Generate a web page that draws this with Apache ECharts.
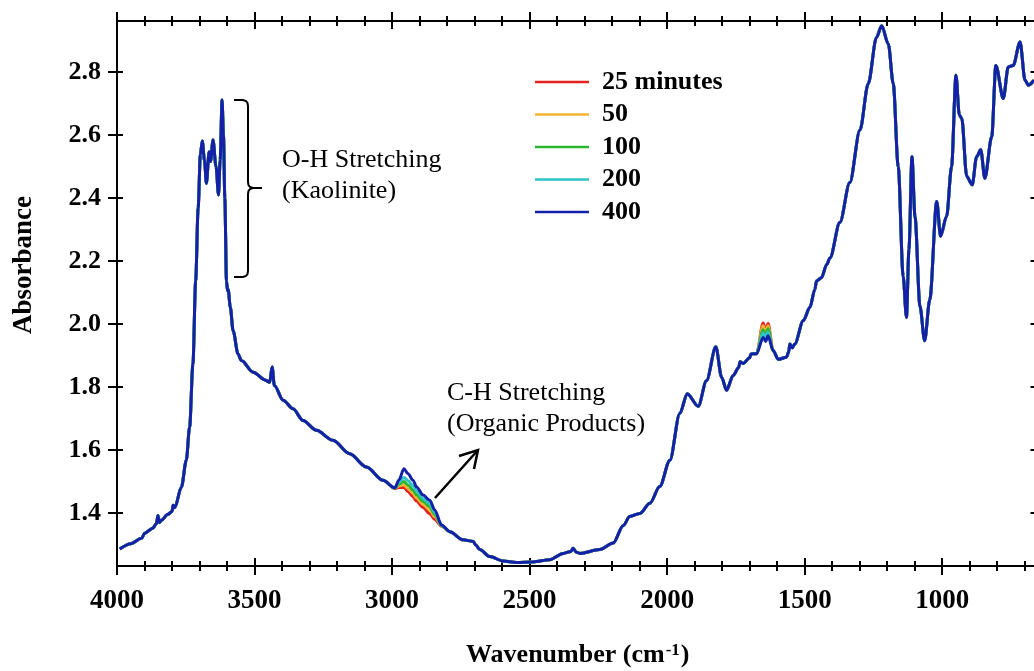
<!DOCTYPE html>
<html>
<head>
<meta charset="utf-8">
<script src="https://cdn.jsdelivr.net/npm/echarts@6/dist/echarts.min.js"></script>
<style>
  html, body { margin: 0; padding: 0; background: #fff; }
  #main { width: 1034px; height: 671px; }
</style>
</head>
<body>
<div id="main"></div>
<script>
// 波数 (cm-1) 与 400 分钟吸光度
var wavenumber = [3990, 3950, 3911, 3899, 3870, 3857, 3851, 3846, 3839, 3815, 3800, 3796, 3790, 3766, 3748, 3736, 3724, 3714, 3705, 3697,
    3690, 3682, 3675, 3665, 3660, 3651, 3640, 3631, 3625, 3618, 3613, 3608, 3602, 3598, 3596, 3588, 3578, 3560, 3548, 3505,
    3460, 3445, 3436, 3428, 3396, 3360, 3324, 3275, 3215, 3154, 3093, 3033, 2990, 2975, 2957, 2942, 2924, 2911, 2887, 2863,
    2845, 2820, 2790, 2742, 2705, 2695, 2681, 2645, 2596, 2548, 2487, 2427, 2378, 2350, 2342, 2330, 2317, 2245, 2196, 2160,
    2136, 2099, 2063, 2027, 1990, 1954, 1927, 1887, 1857, 1823, 1802, 1784, 1760, 1740, 1735, 1724, 1700, 1695, 1675, 1651,
    1642, 1633, 1615, 1596, 1566, 1558, 1554, 1545, 1536, 1505, 1481, 1463, 1457, 1439, 1420, 1408, 1372, 1336, 1299, 1269,
    1239, 1220, 1196, 1178, 1160, 1142, 1130, 1121, 1110, 1099, 1081, 1064, 1045, 1020, 1006, 984, 966, 950, 938, 929,
    911, 891, 875, 860, 845, 820, 805, 778, 760, 742, 717, 699, 687, 667];
var abs400 = [1.286, 1.303, 1.320, 1.336, 1.352, 1.366, 1.392, 1.370, 1.377, 1.396, 1.405, 1.425, 1.417, 1.482, 1.568, 1.673, 1.873, 2.137, 2.368, 2.537,
    2.581, 2.520, 2.447, 2.547, 2.516, 2.584, 2.500, 2.410, 2.520, 2.711, 2.600, 2.400, 2.137, 2.105, 2.110, 2.053, 1.979, 1.905, 1.884, 1.847,
    1.822, 1.815, 1.864, 1.805, 1.758, 1.731, 1.694, 1.663, 1.631, 1.588, 1.546, 1.504, 1.480, 1.505, 1.541, 1.525, 1.504, 1.483, 1.457, 1.441,
    1.410, 1.362, 1.341, 1.315, 1.310, 1.298, 1.284, 1.262, 1.248, 1.243, 1.245, 1.252, 1.272, 1.278, 1.288, 1.276, 1.272, 1.284, 1.305, 1.360,
    1.389, 1.399, 1.431, 1.484, 1.568, 1.716, 1.779, 1.739, 1.820, 1.928, 1.831, 1.790, 1.837, 1.862, 1.880, 1.875, 1.893, 1.905, 1.906, 1.957,
    1.945, 1.963, 1.916, 1.888, 1.895, 1.912, 1.937, 1.925, 1.937, 2.011, 2.053, 2.110, 2.137, 2.147, 2.189, 2.210, 2.323, 2.449, 2.616, 2.763,
    2.910, 2.947, 2.889, 2.763, 2.500, 2.152, 2.021, 2.237, 2.531, 2.341, 2.057, 1.947, 2.079, 2.389, 2.279, 2.342, 2.500, 2.790, 2.664, 2.653,
    2.469, 2.442, 2.531, 2.553, 2.463, 2.595, 2.821, 2.716, 2.816, 2.821, 2.895, 2.774, 2.758, 2.774];

// C-H 区域 (其余时间的曲线不同)
var chWave = [2990, 2975, 2957, 2942, 2924, 2911, 2887, 2863, 2845, 2820];
var ch25  = [1.478, 1.481, 1.482, 1.468, 1.452, 1.438, 1.418, 1.398, 1.380, 1.358];
var ch50  = [1.479, 1.486, 1.490, 1.478, 1.462, 1.448, 1.427, 1.410, 1.388, 1.359];
var ch100 = [1.479, 1.492, 1.500, 1.489, 1.473, 1.458, 1.437, 1.420, 1.395, 1.360];
var ch200 = [1.480, 1.498, 1.513, 1.503, 1.486, 1.470, 1.446, 1.430, 1.402, 1.361];
// 1650 附近
var amWave = [1651, 1642, 1633];
var am25  = [2.003, 1.982, 2.002];
var am50  = [1.995, 1.975, 1.995];
var am100 = [1.982, 1.966, 1.985];
var am200 = [1.972, 1.958, 1.975];

var seriesNames = ['25 minutes', '50', '100', '200', '400'];
var seriesColors = ['#e3221e', '#f2b233', '#2fb52f', '#2fc4c4', '#1420a8'];

var xMajorTicks = [4000, 3500, 3000, 2500, 2000, 1500, 1000];
var xMinorTicks = [3900, 3800, 3700, 3600, 3400, 3300, 3200, 3100, 2900, 2800, 2700, 2600, 2400, 2300, 2200, 2100,
    1900, 1800, 1700, 1600, 1400, 1300, 1200, 1100, 900, 800, 700];
var yTicks = [1.4, 1.6, 1.8, 2.0, 2.2, 2.4, 2.6, 2.8];

function buildData(chVals, amVals) {
    return wavenumber.map(function (w, i) {
        var v = abs400[i];
        var j = chWave.indexOf(w);
        if (chVals && j >= 0) v = chVals[j];
        j = amWave.indexOf(w);
        if (amVals && j >= 0) v = amVals[j];
        return [w, v];
    });
}
var seriesData = [
    buildData(ch25, am25),
    buildData(ch50, am50),
    buildData(ch100, am100),
    buildData(ch200, am200),
    buildData(null, null)
];

var FONT = '"Liberation Serif", "Times New Roman", serif';
var X_MIN = 650, X_MAX = 4000, Y_MIN = 1.232, Y_MAX = 2.962;

function xAx(pos, opts) {
    var base = {
        type: 'value', gridIndex: 0, position: pos, inverse: true, min: X_MIN, max: X_MAX,
        splitLine: { show: false },
        axisLine: { show: false },
        axisTick: { show: false },
        axisLabel: { show: false }
    };
    for (var k in opts) base[k] = opts[k];
    return base;
}
function yAx(pos, opts) {
    var base = {
        type: 'value', gridIndex: 0, position: pos, min: Y_MIN, max: Y_MAX,
        splitLine: { show: false },
        axisLine: { show: false },
        axisTick: { show: false },
        axisLabel: { show: false }
    };
    for (var k in opts) base[k] = opts[k];
    return base;
}
var blackLine = { show: true, onZero: false, lineStyle: { color: '#000', width: 2 } };

var myChart = echarts.init(document.getElementById('main'));
var option = {
    animation: false,
    backgroundColor: '#fff',
    grid: { left: 117, top: 21, width: 921.5, height: 545, outerBoundsMode: 'none', containLabel: false },
    legend: {
        orient: 'vertical',
        left: 535,
        top: 69,
        padding: 0,
        itemWidth: 54,
        itemHeight: 2.5,
        itemGap: 6.5,
        icon: 'rect',
        data: seriesNames,
        textStyle: { fontFamily: FONT, fontWeight: 'bold', fontSize: 26, color: '#000', lineHeight: 26, padding: [0, 0, 0, 8] }
    },
    xAxis: [
        xAx('bottom', {
            axisLine: blackLine,
            axisLabel: {
                show: true, customValues: xMajorTicks, margin: 22, color: '#000', fontFamily: FONT, fontWeight: 'bold', fontSize: 27,
                formatter: function (v) { return String(v); }
            },
            name: '{a|Wavenumber (cm}{s|-1}{a|)}',
            nameLocation: 'middle',
            nameGap: 76,
            nameTextStyle: {
                rich: {
                    a: { fontFamily: FONT, fontWeight: 'bold', fontSize: 26, color: '#000' },
                    s: { fontFamily: FONT, fontWeight: 'bold', fontSize: 17, color: '#000', verticalAlign: 'top', padding: [0, 1, 10, 1] }
                }
            }
        }),
        xAx('bottom', { offset: -8, axisTick: { show: true, customValues: xMajorTicks, length: 17, lineStyle: { color: '#000', width: 2 } } }),
        xAx('bottom', { offset: -5, axisTick: { show: true, customValues: xMinorTicks, length: 10, lineStyle: { color: '#000', width: 2 } } }),
        xAx('top', { axisLine: blackLine }),
        xAx('top', { offset: -8, axisTick: { show: true, customValues: xMajorTicks, length: 17, lineStyle: { color: '#000', width: 2 } } }),
        xAx('top', { offset: -5, axisTick: { show: true, customValues: xMinorTicks, length: 10, lineStyle: { color: '#000', width: 2 } } })
    ],
    yAxis: [
        yAx('left', {
            axisLine: blackLine,
            axisLabel: {
                show: true, customValues: yTicks, margin: 16, color: '#000', fontFamily: FONT, fontWeight: 'bold', fontSize: 26,
                formatter: function (v) { return v.toFixed(1); }
            }
        }),
        yAx('left', { offset: -6, axisTick: { show: true, customValues: yTicks, length: 15, lineStyle: { color: '#000', width: 2 } } }),
        yAx('right', { axisLine: blackLine, axisTick: { show: true, inside: true, customValues: yTicks, length: 8, lineStyle: { color: '#000', width: 2 } } })
    ],
    series: seriesNames.map(function (name, i) {
        return {
            name: name,
            type: 'line',
            xAxisIndex: 0,
            yAxisIndex: 0,
            data: seriesData[i],
            showSymbol: false,
            smooth: 0.3,
            smoothMonotone: 'x',
            color: seriesColors[i],
            lineStyle: { width: 3, color: seriesColors[i] },
            z: 2 + i
        };
    }),
    graphic: [
        {
            type: 'text', x: 24, y: 265, rotation: Math.PI / 2,
            style: { text: 'Absorbance', font: 'bold 27px ' + FONT, fill: '#000', align: 'center', verticalAlign: 'middle' }
        },
        // 括号
        {
            type: 'polyline',
            shape: { points: [[234, 100], [243, 100], [246, 101], [247.5, 103], [248, 106], [248, 182], [248.5, 185], [250, 187], [253, 188], [262, 188]] },
            style: { stroke: '#000', lineWidth: 2, fill: null }
        },
        {
            type: 'polyline',
            shape: { points: [[253, 188], [250, 189], [248.5, 191], [248, 194], [248, 271], [247.5, 274], [246, 276], [243, 277], [234, 277]] },
            style: { stroke: '#000', lineWidth: 2, fill: null }
        },
        { type: 'text', x: 282, y: 160, style: { text: 'O-H Stretching', font: '26px ' + FONT, fill: '#000', verticalAlign: 'middle' } },
        { type: 'text', x: 282, y: 191, style: { text: '(Kaolinite)', font: '26px ' + FONT, fill: '#000', verticalAlign: 'middle' } },
        { type: 'text', x: 447, y: 393, style: { text: 'C-H Stretching', font: '26px ' + FONT, fill: '#000', verticalAlign: 'middle' } },
        { type: 'text', x: 447, y: 424, style: { text: '(Organic Products)', font: '26px ' + FONT, fill: '#000', verticalAlign: 'middle' } },
        {
            type: 'polyline', shape: { points: [[435, 498], [478, 450]] },
            style: { stroke: '#000', lineWidth: 2.5 }
        },
        {
            type: 'polyline', shape: { points: [[459, 456], [478, 450], [474, 469]] },
            style: { stroke: '#000', lineWidth: 2.5, fill: null }
        }
    ]
};
myChart.setOption(option);
</script>
</body>
</html>
